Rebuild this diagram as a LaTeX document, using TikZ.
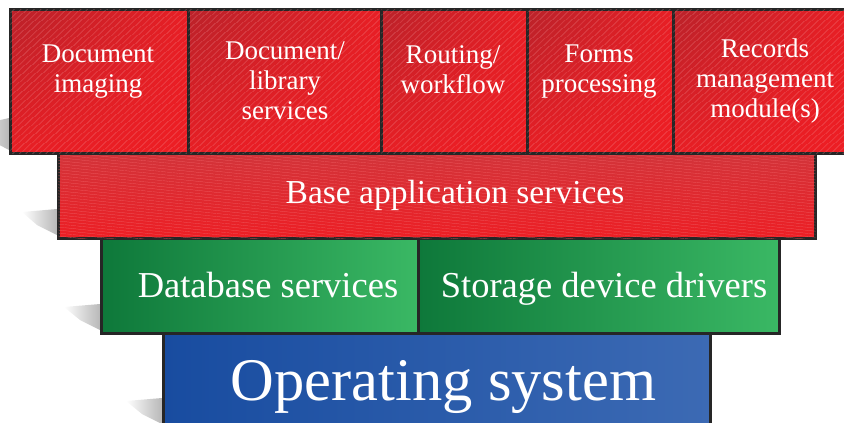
\documentclass[tikz,border=0pt]{standalone}
\usepackage{fontspec}
\setmainfont{Liberation Serif}
\usetikzlibrary{patterns.meta,shadings}
\definecolor{redA}{RGB}{186,34,42}
\definecolor{redB}{RGB}{237,30,36}
\definecolor{redC}{RGB}{210,52,58}
\definecolor{stripe}{RGB}{240,95,100}
\definecolor{grA}{RGB}{14,120,58}
\definecolor{grB}{RGB}{32,170,82}
\definecolor{grC}{RGB}{58,184,100}
\definecolor{blA}{RGB}{24,76,160}
\definecolor{blB}{RGB}{60,106,180}
\definecolor{edge}{RGB}{38,38,38}
\tikzset{
  boxbase/.style={draw=edge, line width=2.5pt, inner sep=0pt, anchor=north west},
  topbox/.style={boxbase, upper left=redA, upper right=redB!90!redA, lower left=redB!90!redA, lower right=redB,
     postaction={pattern={Lines[angle=42, distance=4pt, line width=0.25pt]}, pattern color=stripe}},
  basebox/.style={boxbase, top color=redC, bottom color=redB,
     postaction={pattern={Lines[angle=-6, distance=3pt, line width=0.25pt]}, pattern color=stripe}},
  greenbox/.style={boxbase, left color=grA, middle color=grB, right color=grC},
  bluebox/.style={boxbase, left color=blA, right color=blB},
  toptext/.style={text=white, align=center, inner sep=0pt, anchor=north, font=\fontsize{27}{30}\selectfont},
  basetext/.style={text=white, inner sep=0pt, anchor=base, font=\fontsize{33.5}{40}\selectfont},
  greentext/.style={text=white, inner sep=0pt, anchor=base, font=\fontsize{36.5}{44}\selectfont},
  ostext/.style={text=white, inner sep=0pt, anchor=base, font=\fontsize{60.5}{72}\selectfont},
  shadowshape/.style={left color=white, right color=black!28, draw=none}
}
\begin{document}
\begin{tikzpicture}[x=1pt,y=-1pt]
\useasboundingbox (0,0) rectangle (844,423);
% shadows
\shade[shadowshape] (-30,127) -- (9,118) -- (9,150) -- (-10,140) -- cycle;
\shade[shadowshape] (22,212) -- (57,209) -- (57,235) -- (37,225) -- cycle;
\shade[shadowshape] (64,307) -- (100,304) -- (100,330) -- (80,320) -- cycle;
\shade[shadowshape] (126,401) -- (162,398) -- (162,424) -- (142,414) -- cycle;
% operating system
\node[bluebox, minimum width=547pt, minimum height=100pt] (os) at (162,332) {};
% green layer
\node[greenbox, minimum width=317pt, minimum height=95pt] (db) at (100,237) {};
\node[greenbox, minimum width=361pt, minimum height=95pt] (sd) at (417,237) {};
% base layer
\node[basebox, minimum width=757pt, minimum height=85pt] (base) at (57,152) {};
% top row
\node[topbox, minimum width=178pt, minimum height=144pt] (t1) at (9,8) {};
\node[topbox, minimum width=193pt, minimum height=144pt] (t2) at (187,8) {};
\node[topbox, minimum width=146pt, minimum height=144pt] (t3) at (380,8) {};
\node[topbox, minimum width=146pt, minimum height=144pt] (t4) at (526,8) {};
\node[topbox, minimum width=172pt, minimum height=144pt] (t5) at (672,8) {};
% texts
\node[toptext] (l1) at (98,45) {Document\\imaging};
\node[toptext] (l2) at (285,42) {Document/\\library\\services};
\node[toptext] (l3) at (453,45) {Routing/\\workflow};
\node[toptext] (l4) at (599,45) {Forms\\processing};
\node[toptext] (l5) at (765,39) {Records\\management\\module(s)};
\node[basetext] (lb) at (455,203) {Base application services};
\node[greentext] (ldb) at (268,297) {Database services};
\node[greentext] (lsd) at (604,297) {Storage device drivers};
\node[ostext] (los) at (443.5,400) {Operating system};
\end{tikzpicture}
\end{document}
